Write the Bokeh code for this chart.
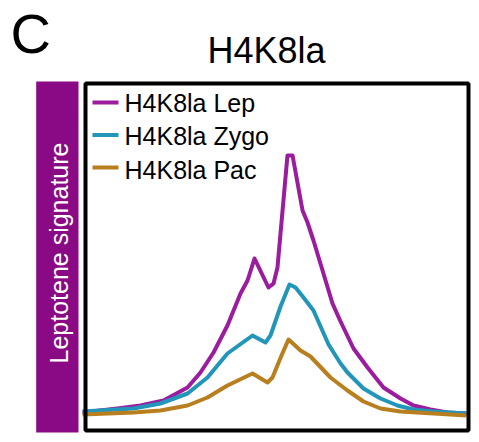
import math
from bokeh.plotting import figure
from bokeh.models import Range1d
from bokeh.core.properties import value
from bokeh.embed import file_html
from bokeh.resources import INLINE

# ---- data (position in kb around peak center, normalized signal) ----
pos_lep = [-2.0, -1.635, -1.396, -1.156, -0.906, -0.771, -0.635, -0.490, -0.354, -0.281,
           -0.208, -0.063, -0.010, 0.031, 0.135, 0.188, 0.292, 0.344, 0.406, 0.510,
           0.604, 0.688, 0.823, 0.969, 1.135, 1.313, 1.448, 1.625, 1.802, 2.0]
sig_lep = [1.7, 2.1, 2.4, 2.9, 4.2, 5.7, 7.7, 10.4, 13.6, 14.9,
           17.1, 14.2, 14.6, 16.2, 27.4, 27.4, 21.9, 20.7, 18.9, 15.6,
           12.6, 10.8, 8.1, 6.2, 4.2, 3.1, 2.4, 2.0, 1.7, 1.6]

pos_zygo = [-2.0, -1.469, -1.188, -0.906, -0.698, -0.490, -0.229, -0.094, -0.042, 0.063,
            0.156, 0.219, 0.302, 0.406, 0.563, 0.688, 0.760, 0.927, 1.104, 1.281,
            1.448, 1.656, 2.0]
sig_zygo = [1.8, 2.1, 2.6, 3.6, 5.2, 7.6, 9.4, 8.7, 9.4, 12.3,
            14.5, 14.2, 13.2, 11.9, 8.5, 6.6, 5.7, 4.1, 3.1, 2.4,
            2.0, 1.8, 1.6]

pos_pac = [-2.0, -1.469, -1.188, -0.906, -0.698, -0.490, -0.229, -0.073, -0.021, 0.073,
           0.146, 0.271, 0.375, 0.583, 0.760, 0.927, 1.104, 1.313, 1.656, 2.0]
sig_pac = [1.5, 1.7, 1.9, 2.4, 3.2, 4.4, 5.6, 4.7, 5.2, 7.4,
           9.0, 7.9, 7.3, 5.2, 3.9, 2.8, 2.1, 1.8, 1.6, 1.4]

series_names = ["H4K8la Lep", "H4K8la Zygo", "H4K8la Pac"]
series_colors = ["#9B1C9E", "#2196B8", "#B97F1E"]
title_text = "H4K8la"
panel_letter = "C"
band_text = "Leptotene signature"
band_color = "#8A0A86"
FONT = "Liberation Sans"

W, H = 479, 442
# canvas pixel -> data conversion (plot area fills the whole canvas)
KB_PER_PX = 1 / 96.0
X_CENTER_PX = 274.0
SIG_PER_PX = 0.1
Y_ZERO_PX = 429.0


def cx(px):
    return (px - X_CENTER_PX) * KB_PER_PX


def cy(py):
    return (Y_ZERO_PX - py) * SIG_PER_PX


p = figure(width=W, height=H, output_backend="svg", toolbar_location=None,
           x_axis_location=None, y_axis_location=None, title=None,
           x_range=Range1d(cx(0), cx(W)), y_range=Range1d(cy(H), cy(0)),
           min_border_left=0, min_border_right=0, min_border_top=0, min_border_bottom=0)
p.grid.visible = False
p.outline_line_color = None
p.background_fill_color = "white"
p.border_fill_color = "white"

# purple side band
p.quad(left=[cx(35.7)], right=[cx(78)], top=[cy(81)], bottom=[cy(432)],
       fill_color=band_color, line_color=None)
p.text(x=[cx(58.5)], y=[cy(252.5)], text=[band_text], angle=math.pi / 2,
       text_align="center", text_baseline="middle", text_color="white",
       text_font=value(FONT), text_font_size="25px")

# series
for xs, ys, col in zip([pos_lep, pos_zygo, pos_pac], [sig_lep, sig_zygo, sig_pac], series_colors):
    p.line(xs, ys, line_color=col, line_width=4, line_join="round")

# frame box
p.quad(left=[cx(85)], right=[cx(468)], top=[cy(83)], bottom=[cy(430)],
       fill_alpha=0, line_color="black", line_width=4)

# legend (manual)
for i, (name, col) in enumerate(zip(series_names, series_colors)):
    ly = 102 + i * 32.5
    p.line([cx(92), cx(118)], [cy(ly), cy(ly)], line_color=col, line_width=4)
    p.text(x=[cx(124)], y=[cy(102.5 + i * 33.4)], text=[name], text_align="left",
           text_baseline="middle", text_color="black",
           text_font=value(FONT), text_font_size="25px")

# title and panel letter
p.text(x=[cx(266)], y=[cy(50)], text=[title_text], text_align="center",
       text_baseline="middle", text_color="black",
       text_font=value(FONT), text_font_size="36px")
p.text(x=[cx(10)], y=[cy(32.5)], text=[panel_letter], text_align="left",
       text_baseline="middle", text_color="black",
       text_font=value(FONT), text_font_size="56px")

open("out.html", "w").write(file_html(p, INLINE))
